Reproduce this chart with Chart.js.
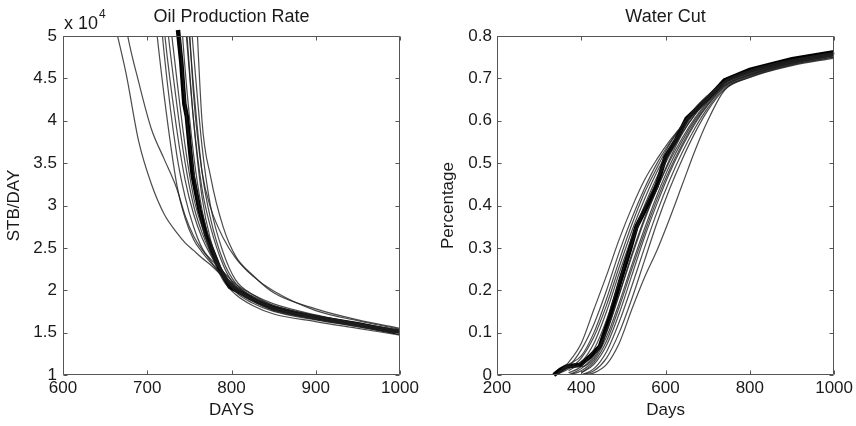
<!DOCTYPE html>
<html>
<head>
<meta charset="utf-8">
<script src="https://cdn.jsdelivr.net/npm/chart.js@4.4.1/dist/chart.umd.min.js"></script>
<style>
  body { margin: 0; background: #fff; }
  .panel { position: absolute; top: 0; width: 428px; height: 426px; }
</style>
</head>
<body>
<div class="panel" style="left:0"><canvas id="oilChart"></canvas></div>
<div class="panel" style="left:428px"><canvas id="waterChart"></canvas></div>
<script>
// ---- Oil production rate (units of 10^4 STB/DAY) ----
const oilDays = [660, 675, 690, 705, 720, 735, 745, 755, 765, 775, 790, 805, 825, 850, 900, 950, 1000];
const oilRuns = [
  [5.2, 4.55, 3.75, 3.25, 2.9, 2.68, 2.56, 2.47, 2.38, 2.3, 2.16, 2.04, 1.93, 1.82, 1.7, 1.6, 1.52],
  [6.2, 5.1, 4.45, 3.9, 3.55, 3.2, 2.88, 2.64, 2.48, 2.37, 2.22, 2.07, 1.95, 1.84, 1.71, 1.61, 1.53],
  [null, null, null, 5.6, 4.3, 3.25, 2.85, 2.6, 2.45, 2.33, 2.18, 2.05, 1.92, 1.8, 1.68, 1.59, 1.5],
  [null, null, null, 6.5, 4.8, 3.6, 3.1, 2.75, 2.5, 2.35, 2.15, 2.0, 1.9, 1.78, 1.67, 1.58, 1.49],
  [null, null, null, 7.0, 5.1, 3.9, 3.3, 2.9, 2.62, 2.42, 2.2, 2.03, 1.9, 1.79, 1.68, 1.59, 1.5],
  [null, null, null, 7.5, 5.5, 4.2, 3.5, 3.0, 2.68, 2.45, 2.2, 2.02, 1.88, 1.77, 1.66, 1.58, 1.48],
  [null, null, null, null, 5.8, 4.5, 3.7, 3.1, 2.75, 2.5, 2.22, 2.0, 1.87, 1.76, 1.66, 1.57, 1.48],
  [null, null, null, null, null, 5.5, 4.2, 3.4, 2.8, 2.45, 2.12, 1.95, 1.82, 1.72, 1.63, 1.55, 1.47],
  [null, null, null, null, null, 6.0, 4.6, 3.6, 2.95, 2.55, 2.17, 2.0, 1.88, 1.77, 1.67, 1.59, 1.5],
  [null, null, null, null, null, 6.0, 5.15, 4.0, 3.2, 2.75, 2.3, 2.04, 1.9, 1.79, 1.68, 1.6, 1.51],
  [null, null, null, null, null, null, 5.3, 4.0, 3.1, 2.6, 2.2, 1.98, 1.85, 1.75, 1.65, 1.57, 1.48],
  [null, null, null, null, null, null, 5.6, 4.4, 3.4, 2.85, 2.35, 2.08, 1.92, 1.8, 1.69, 1.6, 1.52],
  [null, null, null, null, null, null, 6.0, 4.8, 3.7, 3.0, 2.45, 2.12, 1.95, 1.82, 1.7, 1.61, 1.53],
  [null, null, null, null, null, null, 6.0, 4.3, 3.4, 2.98, 2.62, 2.38, 2.17, 1.99, 1.76, 1.64, 1.54],
  [null, null, null, null, null, null, null, 6.0, 4.0, 3.35, 2.75, 2.4, 2.18, 1.97, 1.78, 1.65, 1.55]
];
const oilMeanDays = [736.5, 740.5, 744, 747, 750.4, 754, 762, 770, 776, 786, 798, 815, 830, 850, 875, 900, 950, 1000];
const oilMeanRate = [5.07, 4.68, 4.2, 4.05, 3.69, 3.35, 2.95, 2.65, 2.5, 2.25, 2.04, 1.95, 1.87, 1.79, 1.73, 1.68, 1.6, 1.5];

// ---- Water cut (fraction) ----
const waterDays = [340, 370, 400, 430, 460, 490, 520, 550, 580, 610, 640, 670, 700, 740, 800, 900, 1000];
const waterRuns = [
  [0, 0.03, 0.075, 0.155, 0.235, 0.32, 0.395, 0.46, 0.51, 0.553, 0.59, 0.625, 0.652, 0.688, 0.712, 0.738, 0.756],
  [0, 0.02, 0.06, 0.12, 0.2, 0.29, 0.37, 0.44, 0.5, 0.548, 0.59, 0.628, 0.658, 0.692, 0.716, 0.741, 0.758],
  [0, 0.015, 0.04, 0.09, 0.165, 0.255, 0.34, 0.415, 0.48, 0.535, 0.582, 0.622, 0.655, 0.69, 0.715, 0.74, 0.757],
  [null, 0.005, 0.02, 0.06, 0.13, 0.22, 0.31, 0.39, 0.46, 0.52, 0.572, 0.615, 0.65, 0.688, 0.713, 0.739, 0.756],
  [null, 0, 0.015, 0.045, 0.105, 0.19, 0.28, 0.365, 0.44, 0.505, 0.56, 0.607, 0.645, 0.685, 0.71, 0.737, 0.755],
  [null, 0, 0.01, 0.035, 0.09, 0.17, 0.26, 0.345, 0.425, 0.495, 0.553, 0.602, 0.642, 0.683, 0.709, 0.736, 0.754],
  [null, null, 0.005, 0.025, 0.07, 0.145, 0.235, 0.325, 0.405, 0.478, 0.54, 0.593, 0.636, 0.68, 0.707, 0.735, 0.753],
  [null, null, 0, 0.015, 0.055, 0.125, 0.21, 0.3, 0.385, 0.46, 0.526, 0.583, 0.63, 0.677, 0.705, 0.733, 0.751],
  [null, null, 0, 0.01, 0.04, 0.1, 0.18, 0.27, 0.36, 0.44, 0.51, 0.572, 0.624, 0.674, 0.703, 0.732, 0.75],
  [null, null, 0, 0.005, 0.025, 0.075, 0.155, 0.23, 0.295, 0.37, 0.45, 0.53, 0.6, 0.672, 0.702, 0.73, 0.748],
  [0, 0.02, 0.02, 0.04, 0.1, 0.19, 0.285, 0.37, 0.44, 0.51, 0.57, 0.615, 0.65, 0.69, 0.717, 0.743, 0.76],
  [0, 0.025, 0.045, 0.1, 0.18, 0.27, 0.355, 0.43, 0.49, 0.545, 0.59, 0.63, 0.66, 0.694, 0.719, 0.744, 0.761],
  [null, 0.01, 0.03, 0.075, 0.15, 0.24, 0.325, 0.4, 0.468, 0.527, 0.578, 0.62, 0.654, 0.69, 0.714, 0.74, 0.758],
  [null, null, 0.005, 0.03, 0.08, 0.16, 0.25, 0.335, 0.415, 0.485, 0.545, 0.597, 0.638, 0.682, 0.708, 0.736, 0.754]
];
const waterMeanDays = [335, 350, 365, 397, 420, 444, 468, 491, 515, 531, 555, 578, 600, 625, 650, 700, 740, 800, 900, 1000];
const waterMeanCut = [0, 0.012, 0.02, 0.024, 0.043, 0.067, 0.138, 0.216, 0.295, 0.35, 0.397, 0.444, 0.515, 0.555, 0.605, 0.652, 0.695, 0.72, 0.745, 0.762];

const FONT = "'Liberation Sans', Arial, sans-serif";
const TEXT = '#1a1a1a';

function toPoints(xs, ys) {
  return xs.map((x, i) => ({ x: x, y: ys[i] }));
}

function buildDatasets(xs, runs, meanX, meanY, meanClip) {
  const sets = runs.map(r => ({
    data: toPoints(xs, r),
    borderColor: 'rgba(30,30,30,0.8)',
    borderWidth: 1.2,
    pointRadius: 0,
    cubicInterpolationMode: 'monotone'
  }));
  sets.push({
    data: toPoints(meanX, meanY),
    borderColor: '#000',
    borderWidth: 4.5,
    pointRadius: 0,
    tension: 0,
    clip: meanClip
  });
  return sets;
}

// plain tick text like MATLAB: 1000, 5, 1.5, 0.1
const plainTick = v => String(Math.round(v * 100) / 100);

// MATLAB style box with inward ticks on all four sides
const matlabBox = {
  id: 'matlabBox',
  afterDraw(chart) {
    const { ctx, chartArea: a, scales } = chart;
    const L = Math.round(a.left) + 0.5, R = Math.round(a.right) - 0.5;
    const T = Math.round(a.top) + 0.5, B = Math.round(a.bottom) - 0.5;
    ctx.save();
    ctx.strokeStyle = '#555';
    ctx.lineWidth = 1;
    ctx.beginPath();
    scales.x.ticks.forEach(t => {
      const px = Math.round(scales.x.getPixelForValue(t.value)) + 0.5;
      ctx.moveTo(px, B); ctx.lineTo(px, B - 4);
      ctx.moveTo(px, T); ctx.lineTo(px, T + 4);
    });
    scales.y.ticks.forEach(t => {
      const py = Math.round(scales.y.getPixelForValue(t.value)) + 0.5;
      ctx.moveTo(L, py); ctx.lineTo(L + 4, py);
      ctx.moveTo(R, py); ctx.lineTo(R - 4, py);
    });
    ctx.rect(L, T, R - L, B - T);
    ctx.stroke();
    ctx.restore();
  }
};

// "x 10^4" multiplier above the left y axis
const exponentLabel = {
  id: 'exponentLabel',
  afterDraw(chart) {
    const { ctx, chartArea: a } = chart;
    ctx.save();
    ctx.fillStyle = TEXT;
    ctx.textBaseline = 'alphabetic';
    ctx.font = '18px ' + FONT;
    ctx.fillText('x 10', a.left + 1, 29);
    const w = ctx.measureText('x 10').width;
    ctx.font = '12px ' + FONT;
    ctx.fillText('4', a.left + 2 + w, 18);
    ctx.restore();
  }
};

function makeOptions(cfg) {
  return {
    responsive: true,
    maintainAspectRatio: false,
    animation: false,
    layout: { padding: { left: 0, right: cfg.rightPad, top: 0, bottom: 0 } },
    plugins: {
      legend: { display: false },
      tooltip: { enabled: false },
      title: {
        display: true,
        text: cfg.title,
        fullSize: false,
        color: TEXT,
        font: { family: FONT, size: 18, weight: 'normal', lineHeight: 1.2 },
        padding: { top: 6, bottom: 8.4 }
      }
    },
    scales: {
      x: {
        type: 'linear',
        min: cfg.xMin, max: cfg.xMax,
        grid: { display: false, drawTicks: false },
        border: { display: false },
        ticks: { stepSize: cfg.xStep, color: TEXT, padding: 3, maxRotation: 0, callback: plainTick,
                 font: { family: FONT, size: 17 } },
        title: { display: true, text: cfg.xTitle, color: TEXT,
                 font: { family: FONT, size: 17, lineHeight: 1.2 }, padding: { top: 0, bottom: 5 } },
        afterFit: s => { s.height = 51; }
      },
      y: {
        min: cfg.yMin, max: cfg.yMax,
        grid: { display: false, drawTicks: false },
        border: { display: false },
        ticks: { stepSize: cfg.yStep, color: TEXT, padding: cfg.yPad, callback: plainTick,
                 font: { family: FONT, size: 17 } },
        title: { display: true, text: cfg.yTitle, color: TEXT,
                 font: { family: FONT, size: 17, lineHeight: 1.2 }, padding: { top: cfg.yTitlePad, bottom: 0 } },
        afterFit: s => { s.width = cfg.yWidth; }
      }
    }
  };
}

new Chart(document.getElementById('oilChart'), {
  type: 'line',
  data: { datasets: buildDatasets(oilDays, oilRuns, oilMeanDays, oilMeanRate, { left: 0, top: 10, right: 0, bottom: 0 }) },
  options: makeOptions({
    title: 'Oil Production Rate', xTitle: 'DAYS', yTitle: 'STB/DAY',
    xMin: 600, xMax: 1000, xStep: 100, yMin: 1, yMax: 5, yStep: 0.5,
    yWidth: 63, rightPad: 28, yPad: 6, yTitlePad: 4
  }),
  plugins: [matlabBox, exponentLabel]
});

new Chart(document.getElementById('waterChart'), {
  type: 'line',
  data: { datasets: buildDatasets(waterDays, waterRuns, waterMeanDays, waterMeanCut, 3) },
  options: makeOptions({
    title: 'Water Cut', xTitle: 'Days', yTitle: 'Percentage',
    xMin: 200, xMax: 1000, xStep: 200, yMin: 0, yMax: 0.8, yStep: 0.1,
    yWidth: 69, rightPad: 21, yPad: 5, yTitlePad: 10
  }),
  plugins: [matlabBox]
});
</script>
</body>
</html>
